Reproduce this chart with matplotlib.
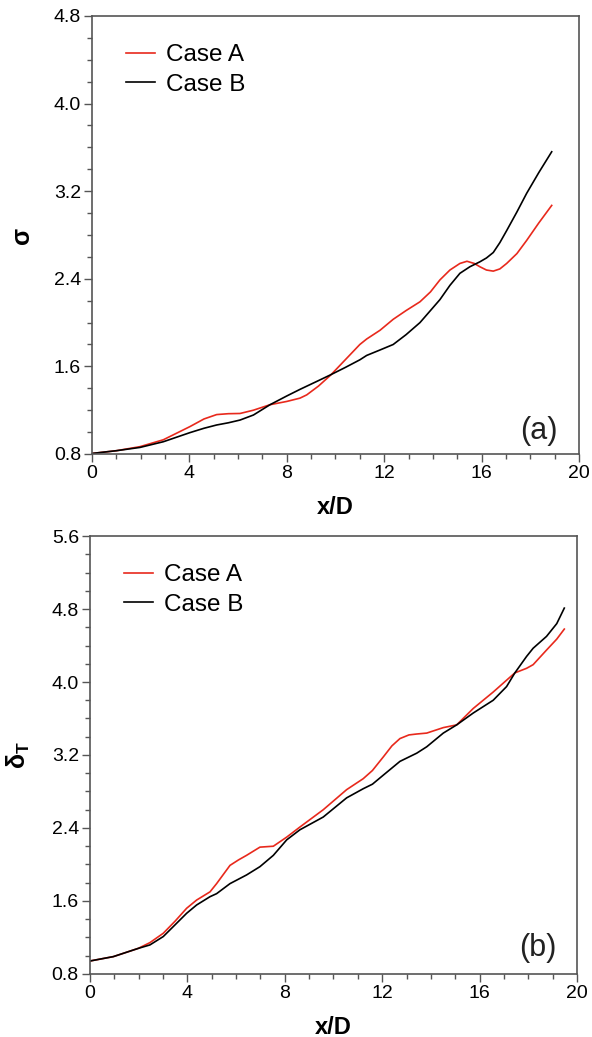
import matplotlib
matplotlib.use("Agg")
import matplotlib.pyplot as plt
from matplotlib.ticker import MultipleLocator

plt.rcParams['font.family'] = ['Liberation Sans', 'DejaVu Sans']
plt.rcParams['mathtext.fontset'] = 'custom'
plt.rcParams['mathtext.rm'] = 'Liberation Sans'
plt.rcParams['mathtext.bf'] = 'Liberation Sans:bold'
plt.rcParams['mathtext.it'] = 'Liberation Sans:italic'

# (a) sigma along the jet
xa_A = [0.0, 1.0, 1.97, 2.93, 4.02, 4.6, 5.12, 5.6, 6.08, 6.63, 7.31, 8.0, 8.54, 8.82,
        9.3, 9.8, 10.4, 11.0, 11.28, 11.83, 12.37, 12.9, 13.47, 13.9, 14.29, 14.7,
        15.11, 15.4, 15.7, 15.93, 16.2, 16.48, 16.75, 17.03, 17.45, 17.85, 18.35, 18.88]
ya_A = [0.805, 0.83, 0.867, 0.93, 1.05, 1.12, 1.16, 1.168, 1.17, 1.20, 1.25, 1.28, 1.31, 1.34,
        1.42, 1.52, 1.66, 1.80, 1.85, 1.93, 2.03, 2.11, 2.19, 2.28, 2.39, 2.48,
        2.54, 2.56, 2.54, 2.51, 2.48, 2.47, 2.49, 2.54, 2.63, 2.75, 2.91, 3.07]

xa_B = [0.0, 1.0, 1.97, 2.93, 4.02, 4.6, 5.12, 5.6, 6.08, 6.63, 7.31, 8.0, 8.54,
        9.3, 9.77, 10.4, 11.0, 11.28, 11.83, 12.37, 12.9, 13.47, 13.9, 14.29, 14.7,
        15.11, 15.52, 15.93, 16.2, 16.48, 16.75, 17.03, 17.45, 17.85, 18.35, 18.88]
ya_B = [0.805, 0.83, 0.86, 0.912, 0.995, 1.035, 1.065, 1.085, 1.11, 1.156, 1.25, 1.33, 1.39,
        1.47, 1.52, 1.59, 1.66, 1.70, 1.75, 1.80, 1.89, 2.0, 2.11, 2.21, 2.34,
        2.45, 2.51, 2.555, 2.59, 2.64, 2.73, 2.84, 3.01, 3.18, 3.37, 3.56]

# (b) thermal thickness
xb_A = [0.0, 0.96, 1.98, 2.46, 3.01, 3.5, 3.97, 4.38, 4.93, 5.20, 5.75, 6.1, 6.43, 6.98,
        7.53, 8.08, 8.62, 9.58, 10.54, 11.22, 11.6, 12.05, 12.4, 12.73, 13.1, 13.42, 13.83,
        14.51, 15.06, 15.74, 16.56, 17.11, 17.45, 17.93, 18.2, 18.75, 19.17, 19.48]
yb_A = [0.942, 0.99, 1.08, 1.143, 1.246, 1.38, 1.52, 1.61, 1.70, 1.79, 1.99, 2.05, 2.10, 2.19,
        2.20, 2.30, 2.41, 2.60, 2.82, 2.94, 3.03, 3.18, 3.30, 3.38, 3.42, 3.43, 3.44,
        3.50, 3.53, 3.71, 3.89, 4.02, 4.10, 4.15, 4.19, 4.35, 4.47, 4.58]

xb_B = [0.0, 0.96, 1.98, 2.46, 3.01, 3.5, 3.97, 4.38, 4.93, 5.20, 5.75, 6.43, 6.98,
        7.53, 8.08, 8.62, 9.58, 10.54, 11.22, 11.6, 12.05, 12.73, 13.42, 13.83,
        14.51, 15.06, 15.74, 16.56, 17.11, 17.45, 17.93, 18.2, 18.75, 19.17, 19.48]
yb_B = [0.942, 0.99, 1.08, 1.118, 1.21, 1.34, 1.465, 1.556, 1.647, 1.68, 1.79, 1.885, 1.976,
        2.10, 2.27, 2.38, 2.52, 2.73, 2.83, 2.88, 2.98, 3.13, 3.22, 3.29,
        3.44, 3.53, 3.66, 3.80, 3.95, 4.10, 4.28, 4.37, 4.50, 4.64, 4.81]

red = '#e8291c'
spine_col = '#555555'

fig = plt.figure(figsize=(5.92, 10.37), dpi=100)
ax1 = fig.add_axes([0.1554, 0.5622, 0.8226, 0.4224])
ax2 = fig.add_axes([0.1520, 0.0608, 0.8226, 0.4223])

panels = [
    (ax1, xa_A, ya_A, xa_B, ya_B, (0.8, 4.8), 'σ', '(a)', 0.0525),
    (ax2, xb_A, yb_A, xb_B, yb_B, (0.8, 5.6), r'$\mathbf{\delta_T}$', '(b)', 0.059),
]

for ax, xA, yA, xB, yB, ylim, ylab, tag, tag_y in panels:
    ax.plot(xA, yA, color=red, lw=1.2, label='Case A')
    ax.plot(xB, yB, color='black', lw=1.2, label='Case B')
    ax.set_xlim(0, 20)
    ax.set_ylim(*ylim)
    ax.xaxis.set_major_locator(MultipleLocator(4))
    ax.xaxis.set_minor_locator(MultipleLocator(1))
    ax.yaxis.set_major_locator(MultipleLocator(0.8))
    ax.yaxis.set_minor_locator(MultipleLocator(0.2))
    ax.yaxis.set_major_formatter(plt.FormatStrFormatter('%.1f'))
    ax.xaxis.set_major_formatter(plt.FormatStrFormatter('%d'))
    ax.tick_params(which='major', direction='out', length=6, width=1,
                   color=spine_col, labelsize=14, pad=2)
    ax.tick_params(which='minor', direction='out', length=3.5, width=1, color=spine_col)
    for s in ax.spines.values():
        s.set_color(spine_col)
        s.set_linewidth(1.2)
    ax.set_xlabel('x/D', fontsize=17, fontweight='bold', labelpad=10)
    ax.set_ylabel(ylab, fontsize=18, fontweight='bold', labelpad=14)
    ax.text(0.957, tag_y, tag, transform=ax.transAxes, ha='right', va='center',
            fontsize=22, color='#222222')
    ax.legend(loc='upper left', bbox_to_anchor=(0.025, 0.985), frameon=False,
              fontsize=17.5, handlelength=1.2, handletextpad=0.45, labelspacing=0.3)

fig.savefig('out.png', dpi=100)
